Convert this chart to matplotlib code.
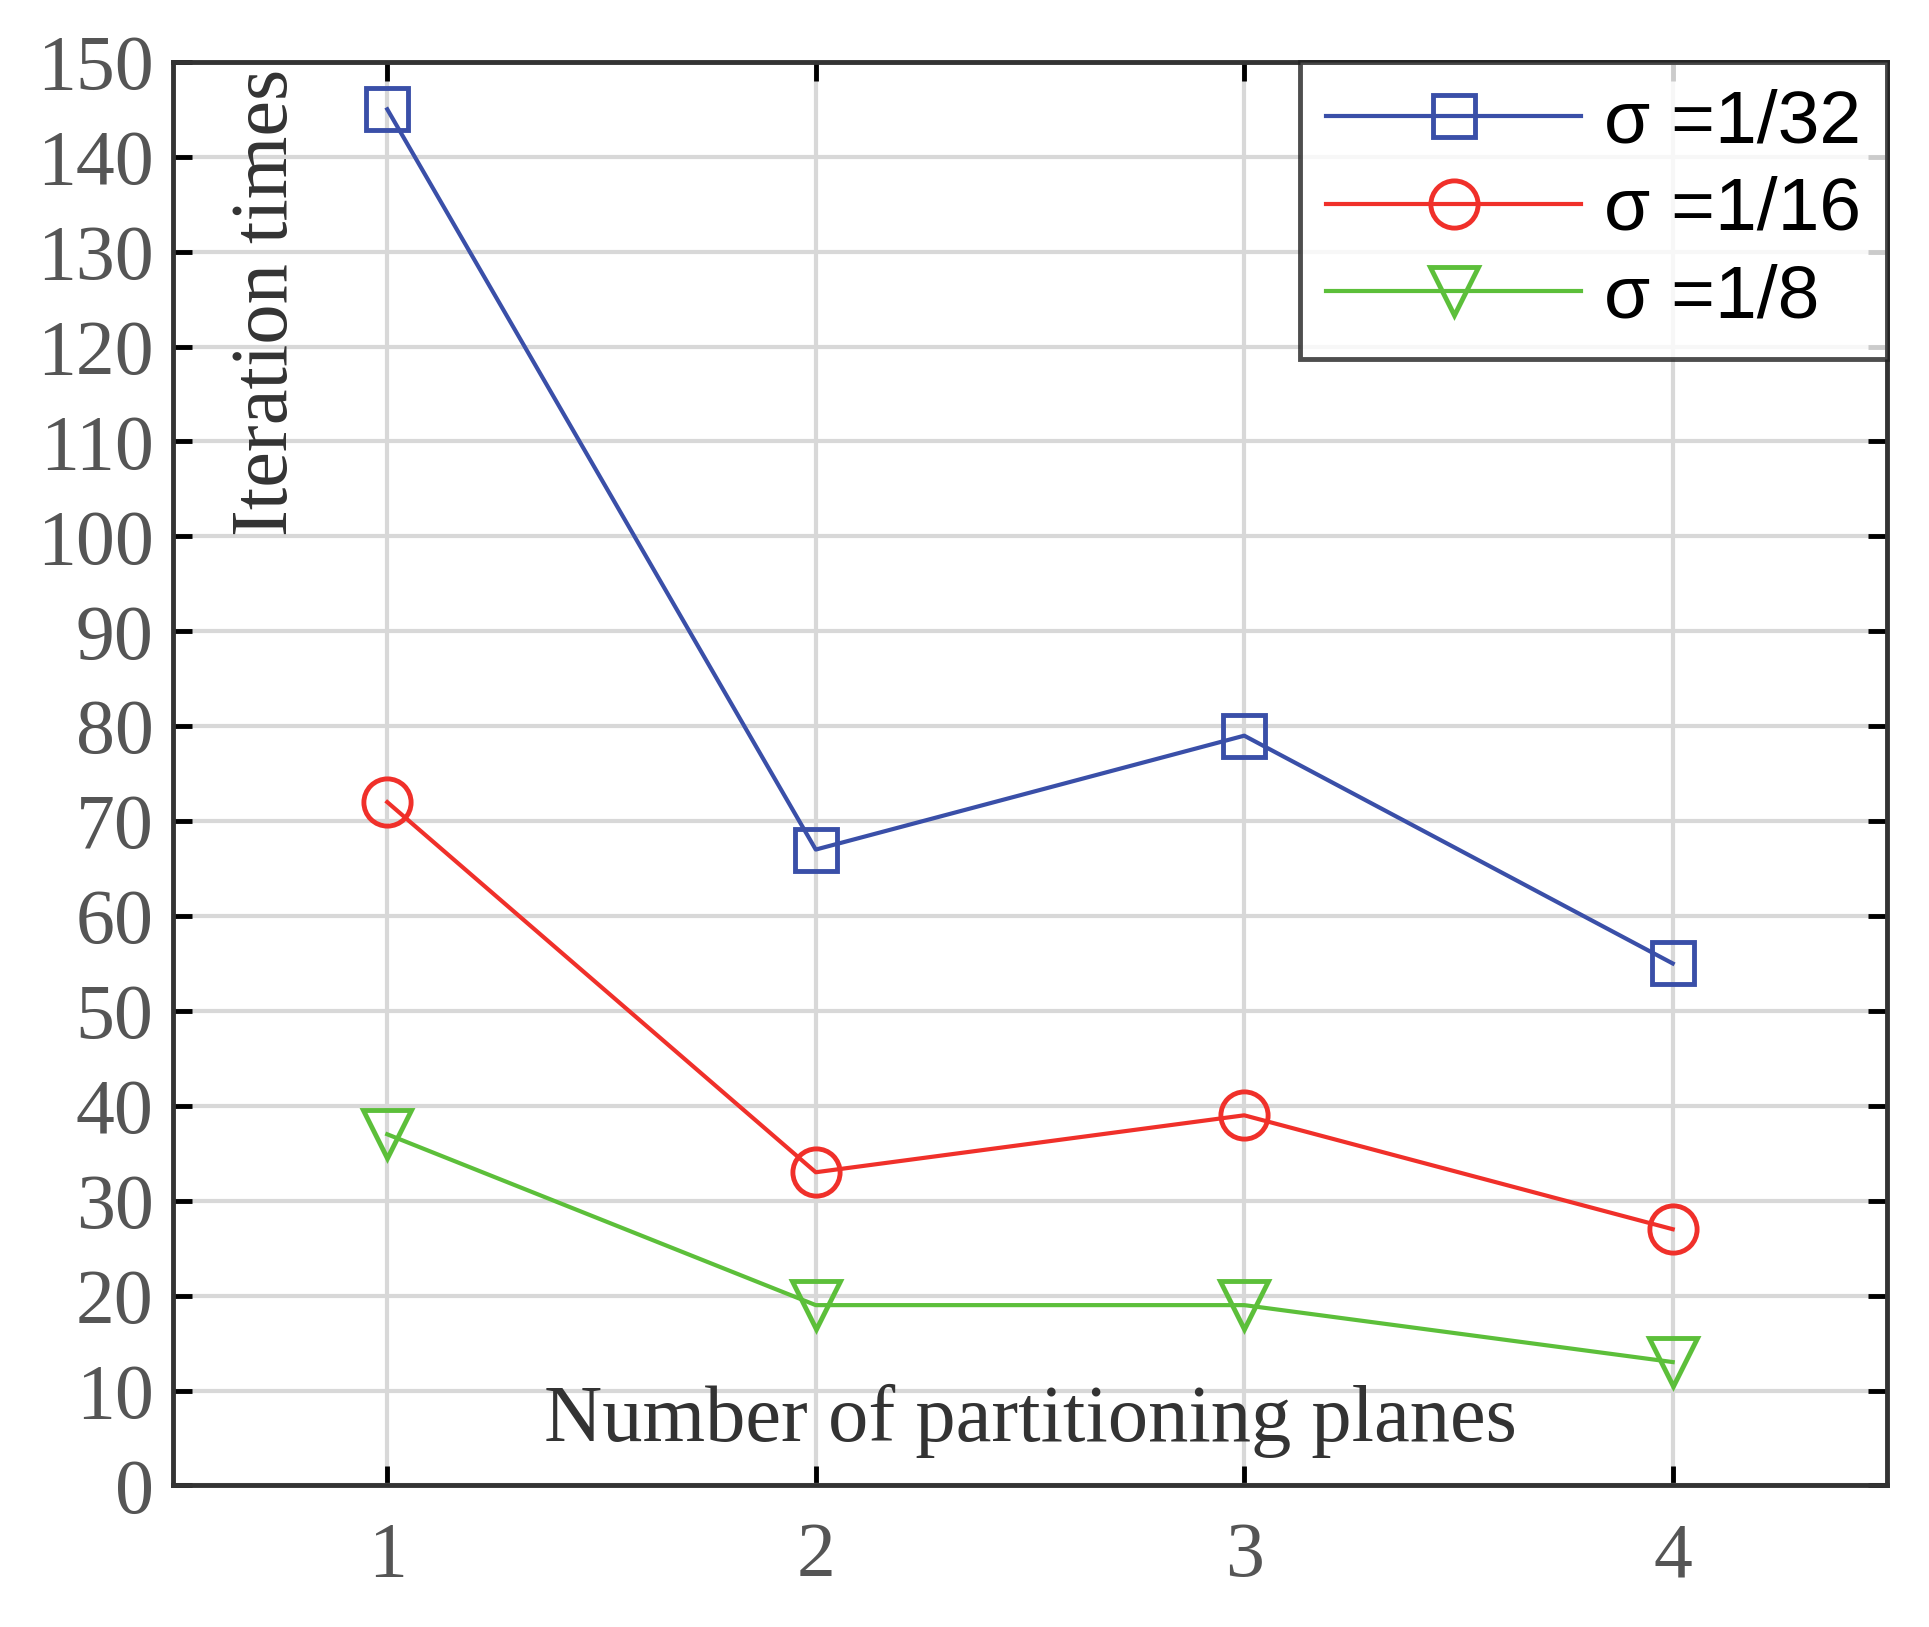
import matplotlib.pyplot as plt

planes = [1, 2, 3, 4]
sigma_32 = [145, 67, 79, 55]
sigma_16 = [72, 33, 39, 27]
sigma_8 = [37, 19, 19, 13]
labels = ["σ =1/32", "σ =1/16", "σ =1/8"]
yticks = list(range(0, 151, 10))

fig = plt.figure(figsize=(19.29, 16.27), dpi=100)
ax = fig.add_axes([0.0897, 0.087, 0.8885, 0.875])

ax.plot(planes, sigma_32, color="#3a4fa8", marker="s", ms=30, mfc="none", mew=3.5, lw=3, label=labels[0])
ax.plot(planes, sigma_16, color="#f0302a", marker="o", ms=34, mfc="none", mew=3.5, lw=3, label=labels[1])
ax.plot(planes, sigma_8, color="#5cbf3a", marker="v", ms=34, mfc="none", mew=3.5, lw=3, label=labels[2])

ax.set_xlim(0.5, 4.5)
ax.set_ylim(0, 150)
ax.set_xticks(planes)
ax.set_yticks(yticks)
ax.grid(True, color="#d8d8d8", lw=3)
ax.tick_params(direction="in", length=14, width=3.5, top=True, right=True,
               labelsize=56, labelcolor="#555555", pad=14)
ax.tick_params(axis="x", pad=26)
for lab in ax.get_xticklabels() + ax.get_yticklabels():
    lab.set_family("Liberation Serif")
for sp in ax.spines.values():
    sp.set_linewidth(3.5)
    sp.set_color("#333333")

ax.text(0.055, 0.995, "Iteration times", transform=ax.transAxes, rotation=90,
        ha="center", va="top", fontsize=58, family="Liberation Serif", color="#333333")
ax.text(0.5, 0.045, "Number of partitioning planes", transform=ax.transAxes,
        ha="center", va="center", fontsize=58, family="Liberation Serif", color="#333333")

leg = ax.legend(loc="upper right", prop={"family": "Liberation Sans", "size": 54},
                frameon=True, fancybox=False, borderaxespad=0, handlelength=3.4,
                handletextpad=0.3, borderpad=0.35, labelspacing=0.25)
leg.get_frame().set_edgecolor("#222222")
leg.get_frame().set_linewidth(3.5)

fig.savefig("out.png", dpi=100)
